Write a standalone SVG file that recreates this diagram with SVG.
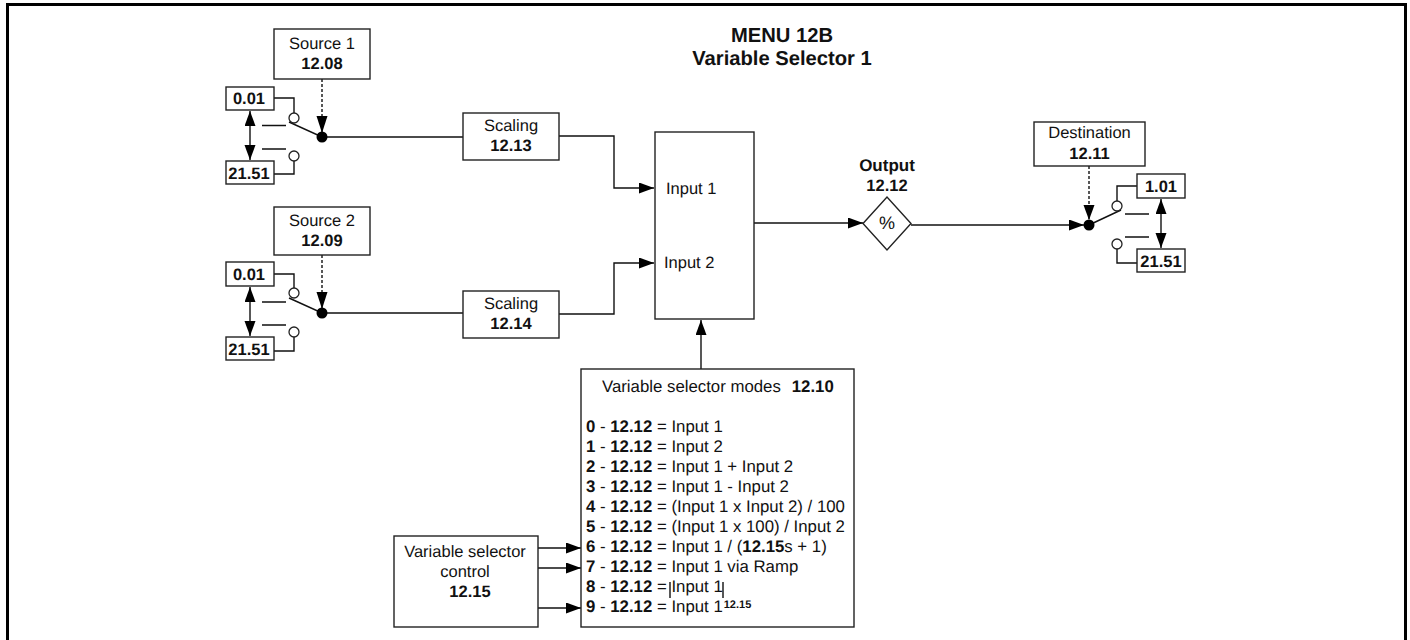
<svg xmlns="http://www.w3.org/2000/svg" width="1410" height="640" viewBox="0 0 1410 640">
<style>
text{font-family:"Liberation Sans",Arial,sans-serif;font-size:16.500px;fill:#111;text-rendering:geometricPrecision}
#modes text{font-size:16.800px}
.m{text-anchor:middle}
.b,tspan.b{font-weight:bold}
.box{fill:#fff;stroke:#222;stroke-width:1.400}
.w{fill:none;stroke:#111;stroke-width:1.400}
.d{fill:none;stroke:#111;stroke-width:1.400;stroke-dasharray:3 2}
.c{fill:#fff;stroke:#222;stroke-width:1.300}
.dot{fill:#000}
.ah{fill:#000;stroke:none}
</style>
<defs>
<marker id="a" markerUnits="userSpaceOnUse" markerWidth="16" markerHeight="12" refX="15" refY="5.500" orient="auto-start-reverse"><path class="ah" d="M0 0L15 5.500L0 11Z"/></marker>
<marker id="t" markerUnits="userSpaceOnUse" markerWidth="18" markerHeight="12" refX="17" refY="5.500" orient="auto"><path class="ah" d="M0 0L17 5.500L0 11Z"/></marker>
</defs>
<rect width="1410" height="640" fill="#fff"/>
<path d="M7.500 640V4.500H1405.500V640" fill="none" stroke="#000" stroke-width="3"/>
<text class="m b" x="782" y="42" style="font-size:20.200px">MENU 12B</text>
<text class="m b" x="782" y="65" style="font-size:20.200px">Variable Selector 1</text>
<g id="connectors">
<path class="d" d="M322 79V133" marker-end="url(#t)"/>
<path class="w" d="M250 111V160" marker-start="url(#a)" marker-end="url(#a)"/>
<path class="w" d="M274 98H294V113M274 174H294V161M262 125.500H286M262 149H286M289 122L322 137H464"/>
<path class="d" d="M322 255V309" marker-end="url(#t)"/>
<path class="w" d="M250 287V336" marker-start="url(#a)" marker-end="url(#a)"/>
<path class="w" d="M274 274H294V288M274 351H294V337M262 302H286M262 325H286M289 298L322 313H464"/>
<path class="w" d="M559 136H614V188H654" marker-end="url(#a)"/>
<path class="w" d="M559 314H614V263H654" marker-end="url(#a)"/>
<path class="w" d="M701 369V320" marker-end="url(#a)"/>
<path class="w" d="M754 223H863" marker-end="url(#a)"/>
<path class="w" d="M911 225H1084" marker-end="url(#a)"/>
<path class="d" d="M1089 166V220" marker-end="url(#a)"/>
<path class="w" d="M1161 199V248" marker-start="url(#a)" marker-end="url(#a)"/>
<path class="w" d="M1137 186H1117V201M1137 263H1117V249M1125 214H1149M1125 237H1149M1121 210L1089 225"/>
<path class="w" d="M538 548H581" marker-end="url(#a)"/>
<path class="w" d="M538 568H581" marker-end="url(#a)"/>
<path class="w" d="M538 608H581" marker-end="url(#a)"/>
</g>
<g id="switch1"><circle class="c" cx="294" cy="118" r="5"/><circle class="c" cx="294" cy="156" r="5"/><circle class="dot" cx="322" cy="137" r="5.500"/></g>
<g id="switch2"><circle class="c" cx="294" cy="293" r="5"/><circle class="c" cx="294" cy="332" r="5"/><circle class="dot" cx="322" cy="313" r="5.500"/></g>
<g id="switch3"><circle class="c" cx="1117" cy="206" r="5"/><circle class="c" cx="1117" cy="244" r="5"/><circle class="dot" cx="1089" cy="225" r="5.500"/></g>
<g id="source1"><rect class="box" x="274" y="29" width="96" height="50"/><text class="m" x="322" y="49">Source 1</text><text class="m b" x="322" y="69">12.08</text></g>
<g id="min1"><rect class="box" x="226" y="87" width="48" height="23"/><text class="m b" x="249" y="104">0.01</text></g>
<g id="max1"><rect class="box" x="226" y="161" width="48" height="23"/><text class="m b" x="249" y="179">21.51</text></g>
<g id="source2"><rect class="box" x="274" y="207" width="96" height="48"/><text class="m" x="322" y="226">Source 2</text><text class="m b" x="322" y="246">12.09</text></g>
<g id="min2"><rect class="box" x="226" y="262" width="48" height="24"/><text class="m b" x="249" y="280">0.01</text></g>
<g id="max2"><rect class="box" x="226" y="337" width="48" height="23"/><text class="m b" x="249" y="355">21.51</text></g>
<g id="scaling1"><rect class="box" x="463" y="113" width="96" height="47"/><text class="m" x="511" y="131">Scaling</text><text class="m b" x="511" y="151">12.13</text></g>
<g id="scaling2"><rect class="box" x="463" y="291" width="96" height="47"/><text class="m" x="511" y="309">Scaling</text><text class="m b" x="511" y="329">12.14</text></g>
<g id="selector"><rect class="box" x="655" y="132" width="99" height="187"/><text x="666" y="194">Input 1</text><text x="664" y="268">Input 2</text></g>
<g id="output"><path class="box" d="M863 223.500L887 197L911 223.500L887 250Z"/><text class="m" x="887" y="229" style="font-size:18px">%</text><text class="m b" x="887" y="171" style="font-size:17px">Output</text><text class="m b" x="887" y="191">12.12</text></g>
<g id="destination"><rect class="box" x="1034" y="122" width="111" height="44"/><text class="m" x="1089.500" y="138">Destination</text><text class="m b" x="1089.500" y="159">12.11</text></g>
<g id="dmin"><rect class="box" x="1137" y="174" width="48" height="24"/><text class="m b" x="1161" y="192">1.01</text></g>
<g id="dmax"><rect class="box" x="1137" y="249" width="48" height="23"/><text class="m b" x="1161" y="267">21.51</text></g>
<g id="control"><rect class="box" x="394" y="536" width="144" height="91"/><text class="m" x="465" y="557">Variable selector</text><text class="m" x="465" y="577">control</text><text class="m b" x="470" y="597">12.15</text></g>
<g id="modes"><rect class="box" x="581" y="369" width="273" height="258"/>
<text x="602" y="392">Variable selector modes<tspan class="b" dx="11">12.10</tspan></text>
<text x="586" y="432"><tspan class="b">0</tspan> - <tspan class="b">12.12</tspan> = Input 1</text>
<text x="586" y="452"><tspan class="b">1</tspan> - <tspan class="b">12.12</tspan> = Input 2</text>
<text x="586" y="472"><tspan class="b">2</tspan> - <tspan class="b">12.12</tspan> = Input 1 + Input 2</text>
<text x="586" y="492"><tspan class="b">3</tspan> - <tspan class="b">12.12</tspan> = Input 1 - Input 2</text>
<text x="586" y="512"><tspan class="b">4</tspan> - <tspan class="b">12.12</tspan> = (Input 1 x Input 2) / 100</text>
<text x="586" y="532"><tspan class="b">5</tspan> - <tspan class="b">12.12</tspan> = (Input 1 x 100) / Input 2</text>
<text x="586" y="552"><tspan class="b">6</tspan> - <tspan class="b">12.12</tspan> = Input 1 / (<tspan class="b">12.15</tspan>s + 1)</text>
<text x="586" y="572"><tspan class="b">7</tspan> - <tspan class="b">12.12</tspan> = Input 1 via Ramp</text>
<text x="586" y="592"><tspan class="b">8</tspan> - <tspan class="b">12.12</tspan> = Input 1</text>
<text x="586" y="612"><tspan class="b">9</tspan> - <tspan class="b">12.12</tspan> = Input 1<tspan class="b" dx="1" dy="-4" style="font-size:11px">12.15</tspan></text>
<path class="w" d="M670 582V598M723 582V598"/></g>
</svg>
